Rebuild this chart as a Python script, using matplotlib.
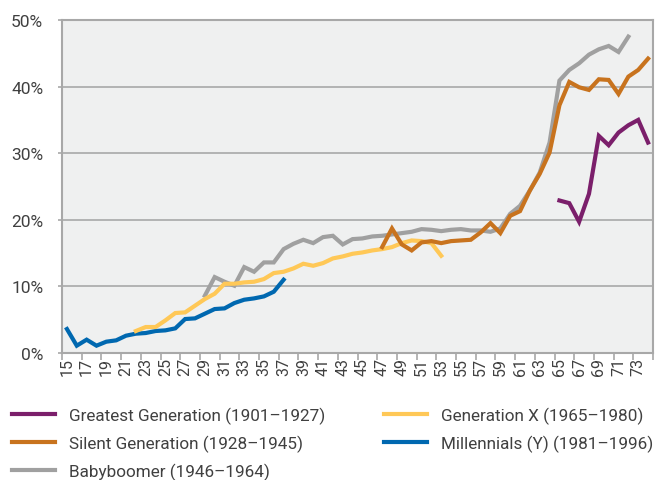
import numpy as np
import matplotlib.pyplot as plt

plt.rcParams['font.family'] = ['Roboto', 'DejaVu Sans']

ages = list(range(15, 75))

greatest_start = 65
greatest = [22.9, 22.5, 19.7, 23.9, 32.6, 31.2, 33.1, 34.2, 35.0, 31.6]

silent_start = 47
silent = [15.9, 18.7, 16.3, 15.4, 16.6, 16.8, 16.5, 16.8, 16.9, 17.0,
          18.1, 19.5, 18.0, 20.6, 21.3, 24.4, 26.9, 30.1, 37.2, 40.7,
          39.9, 39.5, 41.1, 41.0, 38.9, 41.5, 42.5, 44.2]

boomer_start = 29
boomer = [8.6, 11.4, 10.7, 10.1, 12.9, 12.2, 13.6, 13.6, 15.6, 16.4,
          17.0, 16.5, 17.4, 17.6, 16.3, 17.1, 17.2, 17.5, 17.6, 17.8,
          18.0, 18.2, 18.6, 18.5, 18.3, 18.5, 18.6, 18.4, 18.4, 18.2,
          18.7, 20.9, 22.1, 24.4, 27.1, 31.6, 40.9, 42.5, 43.5, 44.8,
          45.6, 46.1, 45.2, 47.5]

genx_start = 22
genx = [3.3, 3.9, 3.9, 4.9, 6.0, 6.1, 7.1, 8.1, 8.9, 10.4,
        10.4, 10.6, 10.7, 11.1, 12.0, 12.2, 12.7, 13.4, 13.1, 13.5,
        14.2, 14.5, 14.9, 15.1, 15.4, 15.6, 15.9, 16.5, 16.9, 16.8,
        16.5, 14.6]

millennials_start = 15
millennials = [3.6, 1.1, 2.0, 1.1, 1.7, 1.9, 2.6, 2.9, 3.0, 3.3,
               3.4, 3.7, 5.1, 5.2, 5.9, 6.6, 6.7, 7.5, 8.0, 8.2,
               8.5, 9.2, 11.0]

series = [
    ('Greatest Generation (1901\u20131927)', greatest_start, greatest, '#7B1F6B'),
    ('Silent Generation (1928\u20131945)', silent_start, silent, '#C8731E'),
    ('Babyboomer (1946\u20131964)', boomer_start, boomer, '#A0A0A0'),
    ('Generation X (1965\u20131980)', genx_start, genx, '#FFC857'),
    ('Millennials (Y) (1981\u20131996)', millennials_start, millennials, '#0068B0'),
]
zorders = [6, 5, 3, 4, 2]

fig = plt.figure(figsize=(6.57, 4.81), dpi=100)
ax = fig.add_axes([62/657, 1-354/481, 591/657, 333/481])
ax.set_facecolor('#EFF0F0')

for (label, start, vals, color), z in zip(series, zorders):
    x = np.arange(start, start + len(vals)) - 15
    ax.plot(x, vals, color=color, lw=3.0, label=label, zorder=z,
            solid_joinstyle='miter')

ax.set_xlim(-0.5, len(ages) - 0.5)
ax.set_ylim(0, 50)
ax.set_yticks([0, 10, 20, 30, 40, 50])
ax.set_yticklabels([f'{v}%' for v in [0, 10, 20, 30, 40, 50]])
ax.yaxis.grid(True, color='#A8A8A8', lw=1.2)
ax.set_axisbelow(True)

ax.set_xticks(np.arange(0, len(ages), 2))
ax.set_xticklabels([str(a) for a in ages[::2]], rotation=90)
ax.set_xticks(np.arange(-0.5, len(ages), 2), minor=True)
ax.tick_params(axis='x', which='major', length=0, pad=3, labelsize=11.5)
ax.tick_params(axis='x', which='minor', length=5, color='#A8A8A8', width=1.2)
ax.tick_params(axis='y', length=3, color='#A8A8A8', width=1.2, pad=10.5,
               labelsize=12.5)
ax.tick_params(labelcolor='#404040')

for s in ax.spines.values():
    s.set_color('#A8A8A8')
    s.set_linewidth(1.5)

fig.legend(loc='upper left', bbox_to_anchor=(-0.0045, 0.184), ncol=2,
           frameon=False, fontsize=12.3, handlelength=2.5, handletextpad=0.84,
           columnspacing=3.4, labelspacing=0.62, labelcolor='#404040')

fig.savefig('out.png', dpi=100)
